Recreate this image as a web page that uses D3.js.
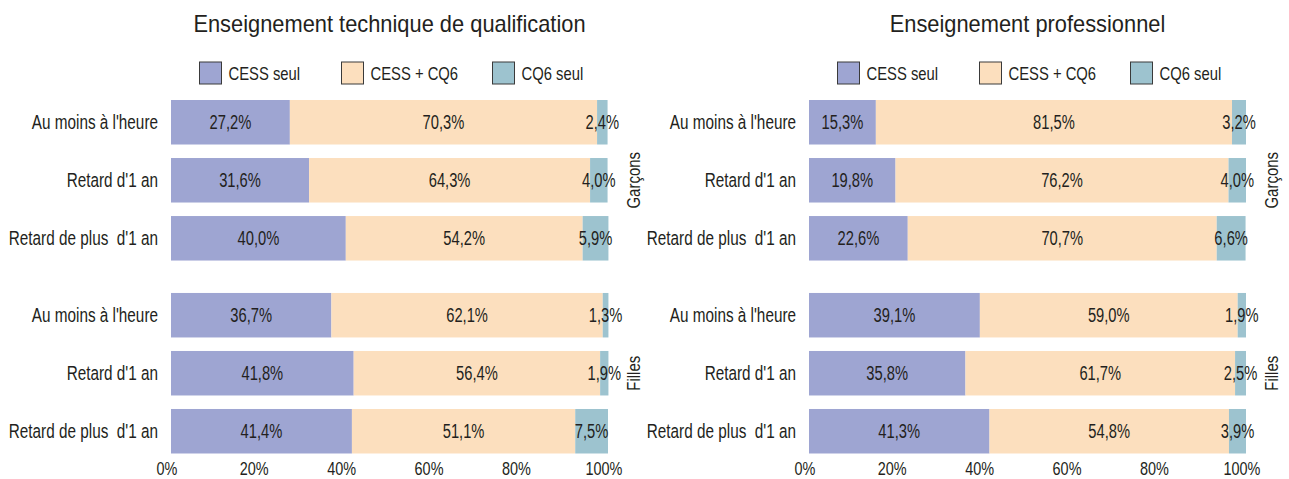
<!DOCTYPE html>
<html>
<head>
<meta charset="utf-8">
<script src="https://cdn.jsdelivr.net/npm/d3@7"></script>
<style>
  body { margin: 0; background: #fff; }
  svg text {
    font-family: 'Liberation Sans', Arial, sans-serif;
    fill: #231f20;
    white-space: pre;
  }
</style>
</head>
<body>
<script>
// Chart data
const seriesNames = ["CESS seul", "CESS + CQ6", "CQ6 seul"];
const groupNames = ["Garçons", "Filles"];
const categoryNames = ["Au moins à l'heure", "Retard d'1 an", "Retard de plus  d'1 an"];
const tickValues = [0, 20, 40, 60, 80, 100];
const chartTitles = ["Enseignement technique de qualification", "Enseignement professionnel"];

// Enseignement technique de qualification (garçons rows, then filles rows)
const techCessSeul = [27.2, 31.6, 40.0, 36.7, 41.8, 41.4];
const techCessCq6  = [70.3, 64.3, 54.2, 62.1, 56.4, 51.1];
const techCq6Seul  = [2.4, 4.0, 5.9, 1.3, 1.9, 7.5];

// Enseignement professionnel (garçons rows, then filles rows)
const proCessSeul = [15.3, 19.8, 22.6, 39.1, 35.8, 41.3];
const proCessCq6  = [81.5, 76.2, 70.7, 59.0, 61.7, 54.8];
const proCq6Seul  = [3.2, 4.0, 6.6, 1.9, 2.5, 3.9];

const colors = ["#9ea5d2", "#fcdfbe", "#9dc3cf"];

let svg = null;
let yGroup, yCat = null;

// Main Process
appendSvg("body");
setupYScales();
drawChart(chartTitles[0], [techCessSeul, techCessCq6, techCq6Seul], 171);
drawChart(chartTitles[1], [proCessSeul, proCessCq6, proCq6Seul], 809);

function appendSvg(domElement) {
    svg = d3.select(domElement).append("svg")
            .attr("width", 1289)
            .attr("height", 479);
}

// one band per group, and three bands (categories) inside each group
function setupYScales() {
    yGroup = d3.scaleBand()
            .domain(groupNames)
            .range([93.25, 460.25])
            .paddingInner(0.098);

    yCat = d3.scaleBand()
            .domain(categoryNames)
            .range([0, yGroup.bandwidth()])
            .paddingInner(0.233)
            .paddingOuter(0.1165);
}

// no condensed font installed: squeeze a regular sans horizontally instead
function narrow(sel, k) {
    sel.each(function() {
        const t = d3.select(this);
        const x = +t.attr("x") || 0;
        t.attr("x", x / k)
         .attr("transform", (t.attr("transform") || "") + ` scale(${k},1)`);
    });
}

function buildRows(values) {
    let rows = [];
    groupNames.forEach(function(g, gi) {
        categoryNames.forEach(function(c, ci) {
            let i = gi * categoryNames.length + ci;
            let row = {group: g, category: c};
            seriesNames.forEach(function(s, si) { row[s] = values[si][i]; });
            rows.push(row);
        });
    });
    return rows;
}

function drawChart(title, values, left) {
    const width = 437;
    const x = d3.scaleLinear().domain([0, 100]).range([left, left + width]);
    const rows = buildRows(values);
    const stacked = d3.stack().keys(seriesNames)(rows);
    const rowY = d => yGroup(d.data.group) + yCat(d.data.category);
    const centerX = left + width / 2;

    // title
    svg.append("text")
        .attr("x", centerX)
        .attr("y", 32)
        .attr("text-anchor", "middle")
        .style("font-size", "23px")
        .text(title)
        .call(narrow, 0.95);

    // legend
    const legendOffsets = [0, 142, 293];
    const legend = svg.append("g")
        .attr("transform", `translate(${centerX - 190}, 62)`)
        .selectAll("g")
        .data(seriesNames)
        .join("g")
        .attr("transform", (d, i) => `translate(${legendOffsets[i]}, 0)`);
    legend.append("rect")
        .attr("width", 22)
        .attr("height", 22)
        .attr("fill", (d, i) => colors[i])
        .attr("stroke", "#3a3a3a")
        .attr("stroke-width", 1);
    legend.append("text")
        .attr("x", 29)
        .attr("y", 18)
        .style("font-size", "18.5px")
        .text(d => d)
        .call(narrow, 0.8);

    // bars
    const layers = svg.append("g")
        .selectAll("g")
        .data(stacked)
        .join("g")
        .attr("fill", (d, i) => colors[i]);
    layers.selectAll("rect")
        .data(d => d)
        .join("rect")
        .attr("x", d => x(d[0]))
        .attr("width", d => x(d[1]) - x(d[0]))
        .attr("y", rowY)
        .attr("height", yCat.bandwidth());

    // value labels
    const labels = svg.append("g").selectAll("g")
        .data(stacked)
        .join("g");
    labels.selectAll("text")
        .data(d => d)
        .join("text")
        .attr("x", d => (x(d[0]) + x(d[1])) / 2)
        .attr("y", d => rowY(d) + yCat.bandwidth() / 2)
        .attr("dy", "0.36em")
        .attr("text-anchor", "middle")
        .style("font-size", "19.5px")
        .text(d => d3.format(".1f")(d[1] - d[0]).replace(".", ",") + "%")
        .call(narrow, 0.755);

    // category labels
    svg.append("g").selectAll("text")
        .data(rows)
        .join("text")
        .attr("x", left - 13)
        .attr("y", d => yGroup(d.group) + yCat(d.category) + yCat.bandwidth() / 2)
        .attr("dy", "0.36em")
        .attr("text-anchor", "end")
        .style("font-size", "19.5px")
        .text(d => d.category)
        .call(narrow, 0.785);

    // group labels (rotated)
    svg.append("g").selectAll("text")
        .data(groupNames)
        .join("text")
        .attr("transform", d => `translate(${left + width + 25}, ${yGroup(d) + yGroup.bandwidth() / 2}) rotate(-90)`)
        .attr("dy", "0.36em")
        .attr("text-anchor", "middle")
        .style("font-size", "18.5px")
        .text(d => d)
        .call(narrow, 0.81);

    // x axis, labels only
    const axis = svg.append("g")
        .attr("transform", "translate(0, 460)")
        .call(d3.axisBottom(x).tickValues(tickValues).tickSize(0).tickFormat(d => d + "%"));
    axis.select(".domain").remove();
    axis.selectAll("text")
        .attr("y", 0)
        .attr("dx", -6)
        .attr("dy", 15)
        .attr("font-family", null)
        .style("font-size", "18.5px")
        .call(narrow, 0.78);
}
</script>
</body>
</html>
